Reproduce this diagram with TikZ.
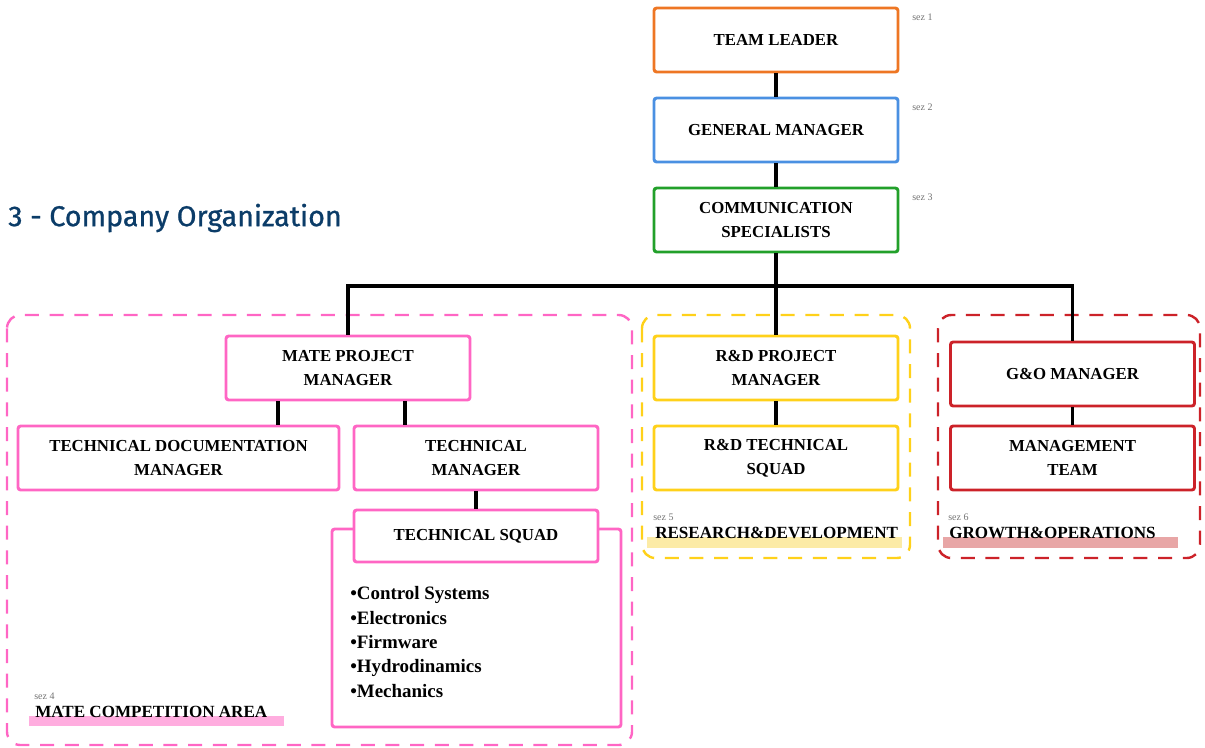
\documentclass[tikz,border=0pt]{standalone}
\usepackage{fontspec}
\setmainfont{Liberation Serif}
\newfontface\titlefont{Fira Sans}[FakeBold=0.9]
\definecolor{orgC}{HTML}{EE7623}
\definecolor{bluC}{HTML}{4A90E2}
\definecolor{grnC}{HTML}{22A02A}
\definecolor{pnkC}{HTML}{FF66C4}
\definecolor{yelC}{HTML}{FFD11A}
\definecolor{redC}{HTML}{CC2229}
\definecolor{pnkH}{HTML}{FFADDF}
\definecolor{yelH}{HTML}{FCEBA6}
\definecolor{redH}{HTML}{E8A6A6}
\definecolor{navyC}{HTML}{0B3C68}
\begin{document}
\begin{tikzpicture}[x=0.75pt,y=-0.75pt,
  box/.style={draw=#1, line width=2.2pt, rounded corners=2pt, fill=white,
    minimum width=183pt, minimum height=48pt, align=center, inner sep=2pt,
    font=\fontsize{12.6}{18}\selectfont\bfseries},
  link/.style={draw=black, line width=2.4pt},
  region/.style={draw=#1, line width=1.8pt, dash pattern=on 10.5pt off 8pt, rounded corners=10pt},
  sez/.style={font=\fontsize{7.5}{8}\selectfont, text=black!55, anchor=west, inner sep=0pt},
  area/.style={font=\fontsize{12.8}{14}\selectfont\bfseries, anchor=west, inner sep=0pt},
  hl/.style={fill=#1, draw=none}
]
\useasboundingbox (0,0) rectangle (1205,747);

% regions
\draw[region=pnkC] (7,315) rectangle (632,745);
\draw[region=yelC] (642,315) rectangle (910,558);
\draw[region=redC] (938,315) rectangle (1200,558);

% highlights
\fill[hl=pnkH] (29,716) rectangle (284,726);
\fill[hl=yelH] (647,537) rectangle (902,548);
\fill[hl=redH] (943,537) rectangle (1178,548);

% title
\node[anchor=west, inner sep=0pt, text=navyC, font=\titlefont\fontsize{21.5}{24}\selectfont] (title) at (8,218) {3 - Company Organization};

% top chain
\node[box=orgC] (tl) at (776,40) {TEAM LEADER};
\node[box=bluC] (gm) at (776,130) {GENERAL MANAGER};
\node[box=grnC] (cs) at (776,220) {COMMUNICATION\\SPECIALISTS};

% second level
\node[box=pnkC] (mpm) at (348,368) {MATE PROJECT\\MANAGER};
\node[box=pnkC, minimum width=240.75pt] (tdm) at (178.5,458) {TECHNICAL DOCUMENTATION\\MANAGER};
\node[box=pnkC] (tm) at (476,458) {TECHNICAL\\MANAGER};

\node[draw=pnkC, line width=2.2pt, rounded corners=2pt, minimum width=216.75pt, minimum height=148.5pt, inner sep=0pt] (tsout) at (476.5,628) {};
\node[box=pnkC, minimum height=39pt] (ts) at (476,536) {TECHNICAL SQUAD};
\node[anchor=west, align=left, inner sep=0pt, font=\fontsize{14.2}{18.2}\selectfont\bfseries] (tslist) at (350,642)
  {•Control Systems\\•Electronics\\•Firmware\\•Hydrodinamics\\•Mechanics};

\node[box=yelC] (rdpm) at (776,368) {R\&D PROJECT\\MANAGER};
\node[box=yelC] (rdts) at (776,458) {R\&D TECHNICAL\\SQUAD};

\node[box=redC] (gom) at (1072.5,374) {G\&O MANAGER};
\node[box=redC] (mt) at (1072.5,458) {MANAGEMENT\\TEAM};

% connectors
\coordinate (bus) at (776,286);
\draw[link] (tl.south) -- (gm.north);
\draw[link] (gm.south) -- (cs.north);
\draw[link] (cs.south) -- (rdpm.north);
\draw[link] (mpm.north) -- (mpm.north |- bus) -| (gom.north);
\draw[link] ([xshift=-52.5pt]mpm.south) -- ([xshift=-52.5pt]mpm.south |- tdm.north);
\draw[link] ([xshift=42.75pt]mpm.south) -- ([xshift=42.75pt]mpm.south |- tm.north);
\draw[link] (tm.south) -- (ts.north);
\draw[link] (rdpm.south) -- (rdts.north);
\draw[link] (gom.south) -- (mt.north);

% sez labels
\node[sez] (s1) at (912,17) {sez 1};
\node[sez] (s2) at (912,107) {sez 2};
\node[sez] (s3) at (912,197) {sez 3};
\node[sez] (s4) at (34,696) {sez 4};
\node[sez] (s5) at (653,517) {sez 5};
\node[sez] (s6) at (948,517) {sez 6};

% area labels
\node[area] (a4) at (35,712) {MATE COMPETITION AREA};
\node[area] (a5) at (655,533) {RESEARCH\&DEVELOPMENT};
\node[area] (a6) at (949,533) {GROWTH\&OPERATIONS};
\end{tikzpicture}
\end{document}
